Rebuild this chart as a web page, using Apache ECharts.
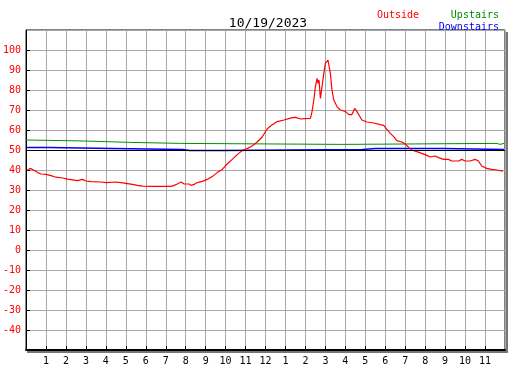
<!DOCTYPE html>
<html>
<head>
<meta charset="utf-8">
<script src="https://cdn.jsdelivr.net/npm/echarts@6/dist/echarts.min.js"></script>
<style>
  html, body { margin: 0; padding: 0; background: #fff; }
  #main { width: 527px; height: 370px; }
</style>
</head>
<body>
<div id="main"></div>
<script>
// hours since midnight, temps
var outsideHours = [0.05, 0.2, 0.33, 0.58, 0.75, 1.0, 1.25, 1.5, 1.83, 2.08, 2.58, 2.83, 3.0, 3.25, 3.75, 4.0, 4.5, 4.75,
    5.08, 5.33, 5.58, 5.83, 6.4, 7.25, 7.42, 7.58, 7.77, 7.92, 8.17, 8.28, 8.42, 8.58, 8.83, 9.08, 9.33, 9.58, 9.83,
    10.08, 10.33, 10.58, 10.83, 11.08, 11.33, 11.58, 11.83, 12.08, 12.25, 12.58, 12.92, 13.33, 13.5, 13.75, 13.92,
    14.25, 14.33, 14.42, 14.5, 14.58, 14.63, 14.68, 14.75, 14.83, 14.92, 15.0, 15.08, 15.13, 15.2, 15.25, 15.33,
    15.42, 15.58, 15.75, 16.0, 16.17, 16.33, 16.47, 16.58, 16.83, 17.08, 17.42, 17.75, 17.92, 18.08, 18.25, 18.42,
    18.58, 18.83, 19.0, 19.17, 19.33, 19.58, 19.83, 20.08, 20.25, 20.5, 20.67, 20.92, 21.17, 21.33, 21.67, 21.83,
    22.0, 22.25, 22.5, 22.67, 22.83, 23.08, 23.33, 23.58, 23.9];
var outsideTemps = [39.7, 40.8, 40.2, 38.7, 38, 37.8, 37.2, 36.4, 36, 35.4, 34.7, 35.3, 34.5, 34.2, 34, 33.7, 34, 33.7,
    33.2, 32.8, 32.3, 31.9, 31.8, 31.8, 32.3, 33, 34, 33, 33, 32.3, 32.8, 33.7, 34.3, 35.3, 36.7, 38.7, 40.3,
    43, 45.3, 47.7, 49.7, 50.7, 52, 54, 56.5, 60.5, 62, 64.2, 65, 66.2, 66.3, 65.5, 65.7,
    65.8, 69.2, 75, 81.7, 85.8, 83.3, 85, 75.8, 81.7, 88.3, 93.3, 92.5, 95, 95.3, 88.3, 80,
    75, 71.7, 70, 69.3, 67.7, 67.7, 70.8, 69.2, 65, 64, 63.5, 62.7, 62.3, 60.3, 58.3, 56.7,
    54.7, 54, 53, 51.3, 50, 49.2, 48.3, 47.3, 46.5, 47, 46.2, 45.3, 45.3, 44.5, 44.5, 45.3,
    44.5, 44.5, 45.3, 44.5, 42, 40.8, 40.3, 40, 39.4];

var upstairsHours = [0, 0.05, 2.95, 5.25, 7.75, 15.85, 23.6, 23.75, 23.95];
var upstairsTemps = [55, 54.5, 53.8, 53.3, 52.8, 53.3, 52.8, 53.3, 53.3];

var downstairsHours = [0.05, 0.9, 1.0, 1.15, 4.35, 7.85, 8.2, 8.3, 9.75, 16.85, 17.5, 17.6, 19.45, 19.5, 19.95, 20.0,
    20.3, 20.35, 20.7, 20.75, 20.9, 23.95];
var downstairsTemps = [51.3, 50.8, 51.3, 50.8, 50.3, 49.8, 50.3, 49.8, 50.3, 50.8, 50.3, 50.8, 50.3, 50.8, 50.3, 50.8,
    50.3, 50.8, 50.3, 50.8, 50.3, 50.3];

var titleText = '10/19/2023';

function pairs(xs, ys){
    var out = [];
    for (var i = 0; i < xs.length; i++) out.push([xs[i], ys[i]]);
    return out;
}

var mono = 'DejaVu Sans Mono';
var myChart = echarts.init(document.getElementById('main'));

var option = {
    animation: false,
    backgroundColor: '#fff',
    title: [
        {text: titleText, left: 263, top: 12, textAlign: 'center',
            textStyle: {fontFamily: mono, fontSize: 13, fontWeight: 'normal', color: '#000'}},
        {text: 'Outside', left: 372, top: 5,
            textStyle: {fontFamily: mono, fontSize: 10, fontWeight: 'normal', color: '#ff0000'}},
        {text: 'Upstairs', right: 23, top: 5,
            textStyle: {fontFamily: mono, fontSize: 10, fontWeight: 'normal', color: '#008800'}},
        {text: 'Downstairs', right: 23, top: 17,
            textStyle: {fontFamily: mono, fontSize: 10, fontWeight: 'normal', color: '#0000ff'}}
    ],
    grid: {left: 25, right: 22, top: 30, bottom: 20, show: true, borderColor: '#000', borderWidth: 1},
    graphic: [
        {type: 'rect', shape: {x: 506, y: 32, width: 2, height: 320}, style: {fill: '#777'}, z: 100},
        {type: 'rect', shape: {x: 27, y: 351, width: 481, height: 2}, style: {fill: '#777'}, z: 100}
    ],
    xAxis: {
        type: 'value', min: 0, max: 24, interval: 1,
        axisLine: {onZero: false, lineStyle: {color: '#000', width: 2}},
        axisTick: {inside: true, length: 4, lineStyle: {color: '#000'}},
        axisLabel: {
            margin: 6, color: '#000', fontFamily: mono, fontSize: 10,
            showMinLabel: false, showMaxLabel: false,
            formatter: function(v){ return String(v % 12 === 0 ? 12 : v % 12); }
        },
        splitLine: {lineStyle: {color: '#a8a8a8', width: 1}}
    },
    yAxis: {
        type: 'value', min: -50, max: 110, interval: 10,
        axisLine: {show: true, onZero: false, lineStyle: {color: '#000', width: 1}},
        axisTick: {inside: true, length: 4, lineStyle: {color: '#000'}},
        axisLabel: {
            margin: 5, color: '#ff0000', fontFamily: mono, fontSize: 10,
            showMinLabel: false, showMaxLabel: false
        },
        splitLine: {lineStyle: {color: '#a8a8a8', width: 1}}
    },
    series: [
        {
            name: 'Upstairs', type: 'line', step: 'end', symbol: 'none',
            lineStyle: {color: '#009000', width: 1},
            data: pairs(upstairsHours, upstairsTemps),
            markLine: {
                silent: true, symbol: 'none', label: {show: false},
                lineStyle: {color: '#000', width: 1, type: 'solid'},
                data: [{yAxis: 50}]
            }
        },
        {
            name: 'Downstairs', type: 'line', step: 'end', symbol: 'none',
            lineStyle: {color: '#0000ff', width: 1.5},
            data: pairs(downstairsHours, downstairsTemps)
        },
        {
            name: 'Outside', type: 'line', symbol: 'none',
            lineStyle: {color: '#ff0000', width: 1.2},
            data: pairs(outsideHours, outsideTemps)
        }
    ]
};

myChart.setOption(option);
</script>
</body>
</html>
